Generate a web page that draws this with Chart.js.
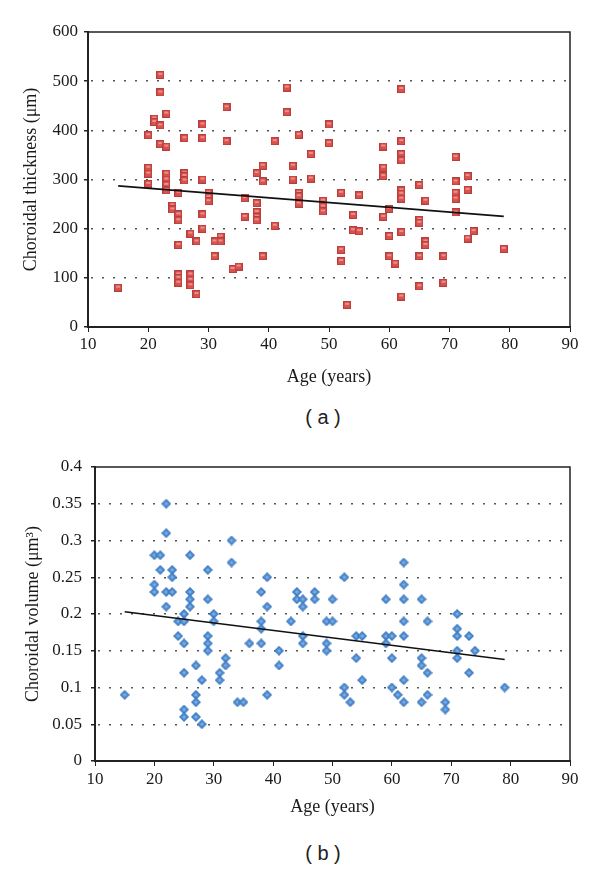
<!DOCTYPE html>
<html>
<head>
<meta charset="utf-8">
<script src="https://cdn.jsdelivr.net/npm/chart.js@4.4.1/dist/chart.umd.min.js"></script>
<style>
  body { margin: 0; background: #fff; }
  #wrap { position: relative; width: 600px; height: 870px; }
  canvas { position: absolute; left: 0; }
  .cap { position: absolute; left: 273px; width: 100px; text-align: center;
         font-family: "Liberation Sans", Arial, sans-serif; font-size: 20px; line-height: 22px; color: #222; }
</style>
</head>
<body>
<div id="wrap">
  <canvas id="chartA" width="600" height="395" style="top:0"></canvas>
  <div class="cap" style="top:406px">( a )</div>
  <canvas id="chartB" width="600" height="385" style="top:440px"></canvas>
  <div class="cap" style="top:842px">( b )</div>
</div>
<script>
// (a) choroidal thickness vs age
const ageA = [15,
  20,20,20,20, 21,21, 22,22,22,22, 23,23,23,23,23,23, 24,24,
  25,25,25,25,25,25,25, 26,26,26,26, 27,27,27,27, 28,28,
  29,29,29,29,29, 30,30,30, 31,31, 32,32, 33,33, 34, 35, 36,36,
  38,38,38,38,38, 39,39,39, 41,41, 43,43, 44,44, 45,45,45,45,
  47,47, 49,49,49, 50,50, 52,52,52, 53, 54,54, 55,55,
  59,59,59,59, 60,60,60, 61, 62,62,62,62,62,62,62,62,62,
  65,65,65,65,65, 66,66,66, 69,69, 71,71,71,71,71, 73,73,73, 74, 79];
const thickA = [80,
  390,324,312,291, 424,417, 513,477,410,372, 434,367,312,300,289,278, 247,239,
  273,229,217,167,107,100,90, 384,313,307,298, 190,107,96,85, 174,67,
  412,384,300,229,200, 273,264,256, 174,144, 184,174, 447,378, 118, 123, 262,224,
  313,252,234,224,217, 328,296,144, 378,206, 487,437, 328,300, 391,273,266,251,
  352,302, 257,245,235, 412,374, 273,157,134, 45, 228,197, 268,195,
  367,324,307,224, 240,185,144, 129, 484,378,352,339,278,271,261,193,62,
  289,218,212,144,83, 257,174,167, 144,90, 346,296,273,261,233, 307,279,180, 195, 159];
const trendA = [[15, 287], [79, 225]];

// (b) choroidal volume vs age
const ageB = [15,
  20,20,20, 21,21, 22,22,22,22, 23,23,23, 24,24, 25,25,25,25,25,25,
  26,26,26,26, 27,27,27,27, 28,28, 29,29,29,29,29, 30,30, 31,31, 32,32, 33,33,
  34, 35, 36, 38,38,38,38, 39,39,39, 41,41, 43, 44,44, 45,45,45,45, 47,47,
  49,49,49, 50,50, 52,52,52, 53, 54,54, 55,55, 59,59,59, 60,60,60, 61,
  62,62,62,62,62,62,62, 65,65,65,65, 66,66,66, 69,69, 71,71,71,71,71, 73,73, 74, 79];
const volB = [0.09,
  0.28,0.24,0.23, 0.28,0.26, 0.35,0.31,0.23,0.21, 0.26,0.25,0.23, 0.19,0.17, 0.20,0.19,0.16,0.12,0.07,0.06,
  0.28,0.23,0.22,0.21, 0.13,0.09,0.08,0.06, 0.11,0.05, 0.26,0.22,0.17,0.16,0.15, 0.20,0.19, 0.12,0.11, 0.14,0.13, 0.30,0.27,
  0.08, 0.08, 0.16, 0.23,0.19,0.18,0.16, 0.25,0.21,0.09, 0.15,0.13, 0.19, 0.23,0.22, 0.22,0.21,0.17,0.16, 0.23,0.22,
  0.19,0.16,0.15, 0.22,0.19, 0.25,0.10,0.09, 0.08, 0.17,0.14, 0.17,0.11, 0.22,0.17,0.16, 0.17,0.14,0.10, 0.09,
  0.27,0.24,0.22,0.19,0.17,0.11,0.08, 0.22,0.14,0.13,0.08, 0.19,0.12,0.09, 0.08,0.07, 0.20,0.18,0.17,0.15,0.14, 0.17,0.12, 0.15, 0.10];
const trendB = [[15, 0.203], [79, 0.138]];

const xTicks = [10, 20, 30, 40, 50, 60, 70, 80, 90];

const serif = '"Liberation Serif", "Times New Roman", serif';

// little bevelled marker images, like the spreadsheet ones
function squareMarker() {
  const c = document.createElement('canvas');
  c.width = 8; c.height = 8;
  const g = c.getContext('2d');
  g.fillStyle = '#b53f3c';
  g.fillRect(0, 0, 8, 8);
  g.fillStyle = '#d9524e';
  g.fillRect(1, 1, 6, 6);
  g.fillStyle = '#ea8f8c';
  g.fillRect(2, 2, 4, 2);
  return c;
}

function diamondMarker() {
  const c = document.createElement('canvas');
  c.width = 10; c.height = 10;
  const g = c.getContext('2d');
  const diamond = (r, col) => {
    g.fillStyle = col;
    g.beginPath();
    g.moveTo(5, 5 - r); g.lineTo(5 + r, 5); g.lineTo(5, 5 + r); g.lineTo(5 - r, 5);
    g.closePath();
    g.fill();
  };
  diamond(5, '#3d76b8');
  diamond(3.8, '#4f8dd4');
  diamond(1.8, '#7db0e8');
  return c;
}

// top and right edge of the plot box
const framePlugin = {
  id: 'frame',
  afterDatasetsDraw(chart) {
    const { ctx, chartArea: a } = chart;
    ctx.save();
    ctx.strokeStyle = '#222';
    ctx.lineWidth = 1.5;
    ctx.beginPath();
    ctx.moveTo(a.left, a.top);
    ctx.lineTo(a.right, a.top);
    ctx.lineTo(a.right, a.bottom);
    ctx.stroke();
    ctx.restore();
  }
};

function toPoints(xs, ys) {
  return xs.map((x, i) => ({ x: x, y: ys[i] }));
}

function makeChart(id, cfg) {
  const ctx = document.getElementById(id).getContext('2d');
  return new Chart(ctx, {
    type: 'scatter',
    data: {
      datasets: [
        {
          type: 'line',
          data: cfg.trend.map(p => ({ x: p[0], y: p[1] })),
          borderColor: '#111',
          borderWidth: 1.6,
          pointRadius: 0,
          fill: false
        },
        {
          data: toPoints(cfg.xs, cfg.ys),
          pointStyle: cfg.marker,
          pointRadius: 5
        }
      ]
    },
    options: {
      responsive: false,
      animation: false,
      layout: { padding: { top: cfg.top, right: 30, left: 0, bottom: 0 } },
      plugins: { legend: { display: false }, tooltip: { enabled: false } },
      scales: {
        x: {
          type: 'linear',
          min: 10, max: 90,
          afterBuildTicks: s => { s.ticks = xTicks.map(v => ({ value: v })); },
          afterFit: s => { s.height = cfg.xHeight; },
          grid: { drawOnChartArea: false, tickLength: 5, color: '#222' },
          border: { color: '#222', width: 2 },
          ticks: { color: '#1a1a1a', font: { family: serif, size: 17 }, padding: cfg.xPad, maxRotation: 0 },
          title: { display: true, text: 'Age (years)', color: '#1a1a1a',
                   font: { family: serif, size: 18 }, padding: { top: 0, bottom: 7 } }
        },
        y: {
          min: 0, max: cfg.yMax,
          ticks: { stepSize: cfg.yStep, color: '#1a1a1a', font: { family: serif, size: 17 }, padding: cfg.yPad,
                   callback: v => String(+v.toFixed(2)) },
          afterFit: s => { s.width = cfg.yWidth; },
          grid: {
            color: c => (c.tick && (Math.abs(c.tick.value) < 1e-9 || Math.abs(c.tick.value - cfg.yMax) < 1e-9))
              ? 'rgba(0,0,0,0)' : '#555',
            tickColor: '#222',
            tickLength: 4,
            lineWidth: 1.5
          },
          border: { color: '#222', width: 2, dash: [2, 9], dashOffset: 9 },
          title: { display: true, text: cfg.yTitle, color: '#1a1a1a',
                   font: { family: serif, size: 18 }, padding: { top: cfg.yTitlePad, bottom: 0 } }
        }
      }
    },
    plugins: [framePlugin]
  });
}

makeChart('chartA', {
  xs: ageA, ys: thickA, trend: trendA, marker: squareMarker(),
  top: 32, xHeight: 68, xPad: 2, yMax: 600, yStep: 100, yWidth: 88, yPad: 6,
  yTitle: 'Choroidal thickness (\u03bcm)', yTitlePad: 20
});

makeChart('chartB', {
  xs: ageB, ys: volB, trend: trendB, marker: diamondMarker(),
  top: 27, xHeight: 64, xPad: 3, yMax: 0.4, yStep: 0.05, yWidth: 95, yPad: 9,
  yTitle: 'Choroidal volume (\u03bcm\u00b3)', yTitlePad: 22
});
</script>
</body>
</html>
